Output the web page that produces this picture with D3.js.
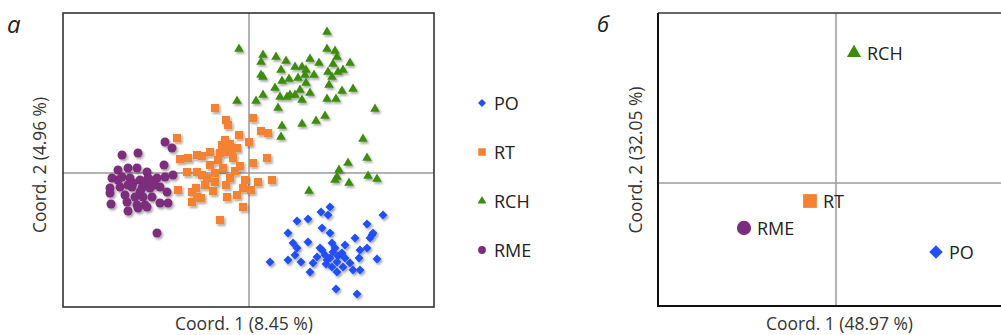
<!DOCTYPE html>
<html>
<head>
<meta charset="utf-8">
<script src="https://cdn.jsdelivr.net/npm/d3@7"></script>
<style>
  body { margin: 0; background: #fff; }
  svg { display: block; font-family: "Open Sans", sans-serif; }
</style>
</head>
<body>
<svg id="chart" width="1001" height="335"></svg>
<script>
// groups in legend order
const groups = ["PO", "RT", "RCH", "RME"];
const groupColors = ["#2350f5", "#f58233", "#3c8c0c", "#7b2d7d"];

// panel a: samples, [coord 1, coord 2]
const poPoints = [
  [0.081, -0.034], [0.072, -0.039], [0.079, -0.042], [0.048, -0.048], [0.059, -0.046], [0.134, -0.042],
  [0.118, -0.051], [0.073, -0.055], [0.081, -0.060], [0.039, -0.060], [0.124, -0.060], [0.121, -0.065],
  [0.106, -0.065], [0.044, -0.070], [0.059, -0.069], [0.083, -0.070], [0.096, -0.072], [0.048, -0.075],
  [0.071, -0.075], [0.111, -0.077], [0.118, -0.075], [0.084, -0.079], [0.093, -0.080], [0.068, -0.084],
  [0.046, -0.082], [0.110, -0.085], [0.021, -0.089], [0.039, -0.087], [0.052, -0.089], [0.064, -0.090],
  [0.078, -0.087], [0.088, -0.089], [0.101, -0.090], [0.128, -0.086], [0.061, -0.099], [0.083, -0.094],
  [0.094, -0.094], [0.104, -0.097], [0.111, -0.097], [0.088, -0.099], [0.087, -0.116], [0.108, -0.121],
  [0.076, -0.082], [0.081, -0.085], [0.089, -0.083], [0.096, -0.085], [0.077, -0.091], [0.073, -0.077],
  [0.086, -0.075], [0.123, -0.062]
];
const rtPoints = [
  [-0.034, 0.065], [-0.023, 0.053], [-0.021, 0.048], [0.004, 0.055], [0.012, 0.042], [0.019, 0.040],
  [-0.010, 0.038], [-0.072, 0.035], [0.000, 0.031], [-0.027, 0.028], [-0.019, 0.029], [-0.012, 0.025],
  [-0.021, 0.021], [-0.029, 0.020], [-0.069, 0.014], [-0.061, 0.015], [-0.052, 0.018], [-0.047, 0.017],
  [-0.039, 0.021], [-0.016, 0.015], [-0.009, 0.007], [-0.014, 0.002], [0.004, 0.010], [0.018, 0.015],
  [-0.062, 0.001], [-0.052, 0.001], [-0.047, -0.002], [-0.042, -0.005], [-0.034, 0.000], [-0.026, 0.005],
  [-0.034, -0.009], [-0.044, -0.012], [-0.036, -0.018], [-0.023, -0.012], [-0.071, -0.017], [-0.057, -0.019],
  [-0.052, -0.024], [-0.048, -0.025], [-0.057, -0.029], [-0.022, -0.024], [-0.012, -0.022], [-0.006, -0.015],
  [0.002, -0.017], [0.009, -0.009], [0.023, -0.007], [-0.006, -0.034], [-0.029, -0.047], [-0.024, 0.033],
  [-0.017, 0.023], [-0.031, 0.013], [-0.004, -0.007], [-0.039, 0.008], [-0.053, -0.015], [-0.019, -0.005]
];
const rchPoints = [
  [-0.010, 0.124], [-0.012, 0.072], [0.007, 0.072], [0.012, 0.111], [0.014, 0.118], [0.027, 0.116],
  [0.037, 0.112], [0.032, 0.103], [0.046, 0.106], [0.053, 0.106], [0.061, 0.114], [0.070, 0.110],
  [0.078, 0.124], [0.086, 0.122], [0.088, 0.116], [0.101, 0.110], [0.078, 0.141], [0.012, 0.098],
  [0.014, 0.096], [0.033, 0.092], [0.040, 0.094], [0.057, 0.103], [0.056, 0.098], [0.065, 0.098],
  [0.057, 0.090], [0.079, 0.101], [0.083, 0.096], [0.089, 0.101], [0.094, 0.103], [0.080, 0.088],
  [0.026, 0.085], [0.014, 0.078], [0.031, 0.076], [0.038, 0.076], [0.046, 0.078], [0.053, 0.073],
  [0.061, 0.080], [0.029, 0.065], [0.078, 0.074], [0.087, 0.074], [0.093, 0.082], [0.104, 0.084],
  [0.126, 0.064], [0.076, 0.057], [0.067, 0.052], [0.053, 0.049], [0.033, 0.047], [0.032, 0.036],
  [0.114, 0.034], [0.118, 0.015], [0.099, 0.010], [0.090, 0.003], [0.088, -0.004], [0.086, -0.007],
  [0.100, -0.010], [0.119, -0.003], [0.128, -0.006], [0.060, -0.018], [0.049, 0.095], [0.051, 0.083],
  [0.084, 0.109], [0.041, 0.078]
];
const rmePoints = [
  [-0.084, 0.031], [-0.077, 0.025], [-0.127, 0.018], [-0.111, 0.020], [-0.085, 0.008], [-0.131, 0.003],
  [-0.121, 0.005], [-0.112, 0.005], [-0.102, 0.001], [-0.076, -0.002], [-0.137, -0.005], [-0.127, -0.004],
  [-0.119, -0.005], [-0.109, -0.007], [-0.101, -0.005], [-0.092, -0.005], [-0.084, -0.004], [-0.139, -0.015],
  [-0.129, -0.014], [-0.117, -0.014], [-0.107, -0.015], [-0.099, -0.015], [-0.089, -0.014], [-0.082, -0.019],
  [-0.139, -0.020], [-0.124, -0.022], [-0.114, -0.024], [-0.106, -0.024], [-0.097, -0.024], [-0.089, -0.030],
  [-0.081, -0.030], [-0.138, -0.031], [-0.122, -0.029], [-0.112, -0.032], [-0.104, -0.032], [-0.121, -0.038],
  [-0.111, -0.035], [-0.102, -0.034], [-0.092, -0.060], [-0.116, -0.010], [-0.104, -0.010], [-0.094, -0.012],
  [-0.109, -0.019], [-0.099, -0.007], [-0.121, -0.012], [-0.131, -0.007]
];

// panel б: group centroids (same order as groups)
const centroidX = [0.100, -0.026, 0.018, -0.092];
const centroidY = [-0.069, -0.018, 0.130, -0.045];

const axisLabelsA = ["Coord. 1 (8.45 %)", "Coord. 2 (4.96 %)"];
const axisLabelsB = ["Coord. 1 (48.97 %)", "Coord. 2 (32.05 %)"];

const svg = d3.select("#chart");
const symbolTypes = [d3.symbolSquare, d3.symbolSquare, d3.symbolTriangle, d3.symbolCircle];
const rotations = [45, 0, 0, 0];

// soft shadow under the sample markers
svg.append("defs").append("filter")
    .attr("id", "shadow")
    .attr("x", "-50%").attr("y", "-50%").attr("width", "200%").attr("height", "200%")
  .append("feDropShadow")
    .attr("dx", 1.5).attr("dy", 2).attr("stdDeviation", 1.3)
    .attr("flood-color", "#000").attr("flood-opacity", 0.35);

// axis titles: the original face is narrower than Open Sans, so squeeze to the measured width
function axisTitle(g, transform, label, width) {
    return g.append("text")
        .attr("transform", transform)
        .attr("text-anchor", "middle")
        .attr("font-size", 17.5)
        .attr("fill", "#333")
        .attr("textLength", width)
        .attr("lengthAdjust", "spacingAndGlyphs")
        .text(label);
}

// ---------- panel a ----------
const xA = d3.scaleLinear().domain([-0.186, 0.185]).range([63, 434]);
const yA = d3.scaleLinear().domain([-0.134, 0.160]).range([307, 13]);
const gA = svg.append("g");

gA.append("line").attr("x1", xA(0)).attr("x2", xA(0)).attr("y1", yA.range()[0]).attr("y2", yA.range()[1])
    .attr("stroke", "#9a9a9a").attr("stroke-width", 1.5);
gA.append("line").attr("x1", xA.range()[0]).attr("x2", xA.range()[1]).attr("y1", yA(0)).attr("y2", yA(0))
    .attr("stroke", "#9a9a9a").attr("stroke-width", 1.5);
gA.append("rect")
    .attr("x", xA.range()[0]).attr("y", yA.range()[1])
    .attr("width", xA.range()[1] - xA.range()[0]).attr("height", yA.range()[0] - yA.range()[1])
    .attr("fill", "none").attr("stroke", "#333").attr("stroke-width", 1.6);

const samples = [poPoints, rtPoints, rchPoints, rmePoints];
const sizesA = [40, 66, 40, 64];
samples.forEach((pts, i) => {
    gA.append("g").attr("filter", "url(#shadow)")
        .selectAll("path").data(pts).enter().append("path")
        .attr("d", d3.symbol().type(symbolTypes[i]).size(sizesA[i])())
        .attr("transform", d => `translate(${xA(d[0])},${yA(d[1])}) rotate(${rotations[i]})`)
        .attr("fill", groupColors[i]);
});

gA.append("text").attr("x", 7).attr("y", 33).attr("font-size", 24).attr("font-style", "italic")
    .attr("fill", "#222").text("a");
axisTitle(gA, "translate(244,329.5)", axisLabelsA[0], 138);
axisTitle(gA, "translate(46,165) rotate(-90)", axisLabelsA[1], 136);

// legend
const legendY = d3.scalePoint().domain(groups).range([103, 250]);
const sizesLegend = [32, 56, 34, 48];
const legend = svg.append("g").selectAll("g").data(groups).enter().append("g")
    .attr("transform", d => `translate(482,${legendY(d)})`);
legend.append("path")
    .attr("d", (d, i) => d3.symbol().type(symbolTypes[i]).size(sizesLegend[i])())
    .attr("transform", (d, i) => `rotate(${rotations[i]})`)
    .attr("fill", (d, i) => groupColors[i]);
legend.append("text").attr("x", 12).attr("y", 7).attr("font-size", 18).attr("fill", "#222").text(d => d);

// ---------- panel б ----------
const xB = d3.scaleLinear().domain([-0.178, 0.180]).range([658, 1016]);
const yB = d3.scaleLinear().domain([-0.123, 0.170]).range([306, 13]);
const gB = svg.append("g");

gB.append("line").attr("x1", xB(0)).attr("x2", xB(0)).attr("y1", yB.range()[0]).attr("y2", yB.range()[1])
    .attr("stroke", "#9a9a9a").attr("stroke-width", 1.5);
gB.append("line").attr("x1", xB.range()[0]).attr("x2", xB.range()[1]).attr("y1", yB(0)).attr("y2", yB(0))
    .attr("stroke", "#9a9a9a").attr("stroke-width", 1.5);
gB.append("line").attr("x1", xB.range()[0]).attr("x2", xB.range()[1]).attr("y1", yB.range()[1]).attr("y2", yB.range()[1])
    .attr("stroke", "#333").attr("stroke-width", 1.5);
gB.append("path")
    .attr("d", `M${xB.range()[0]},${yB.range()[1]}V${yB.range()[0]}H${xB.range()[1]}`)
    .attr("fill", "none").attr("stroke", "#111").attr("stroke-width", 2);

const sizesB = [92, 190, 88, 160];
const cent = gB.selectAll("g.cent").data(groups).enter().append("g")
    .attr("transform", (d, i) => `translate(${xB(centroidX[i])},${yB(centroidY[i])})`);
cent.append("path")
    .attr("d", (d, i) => d3.symbol().type(symbolTypes[i]).size(sizesB[i])())
    .attr("transform", (d, i) => `rotate(${rotations[i]})`)
    .attr("fill", (d, i) => groupColors[i]);
cent.append("text").attr("x", 13).attr("y", 6.5).attr("font-size", 18).attr("fill", "#222").text(d => d);

gB.append("text").attr("x", 597).attr("y", 32).attr("font-size", 22).attr("font-style", "italic")
    .attr("fill", "#222").text("б");
axisTitle(gB, "translate(839.5,329.5)", axisLabelsB[0], 147);
axisTitle(gB, "translate(642,160) rotate(-90)", axisLabelsB[1], 147);
</script>
</body>
</html>
